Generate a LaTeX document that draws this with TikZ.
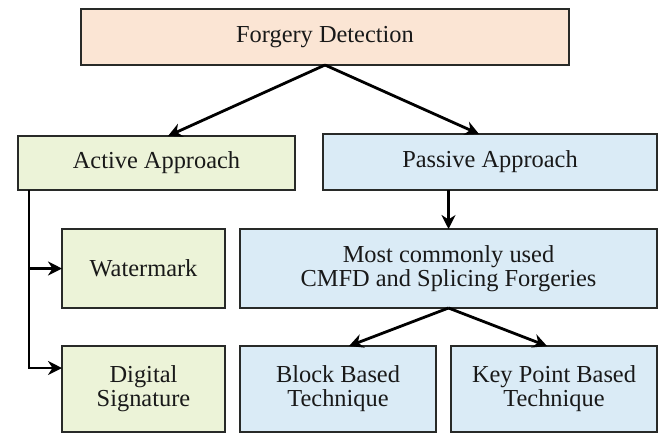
\documentclass[tikz,border=0pt]{standalone}
\usepackage{fontspec}
\setmainfont{Liberation Serif}
\usepackage{tikz}
\usetikzlibrary{arrows.meta,positioning,calc}

\definecolor{peach}{RGB}{251,229,212}
\definecolor{leaf}{RGB}{236,243,216}
\definecolor{sky}{RGB}{218,235,246}
\definecolor{edge}{RGB}{40,42,40}

\tikzset{
    box/.style={draw=edge,line width=1.4pt,inner sep=0pt,outer sep=0pt,
        align=center,font=\fontsize{12.2}{12}\selectfont,text=black!90},
    rootbox/.style={box,fill=peach},
    activebox/.style={box,fill=leaf},
    passivebox/.style={box,fill=sky},
}

\begin{document}
\begin{tikzpicture}[x=0.5pt,y=-0.5pt,>={Stealth[length=7pt,width=7pt]},line width=1.4pt]
    \useasboundingbox (0,0) rectangle (667,435);
    \node[rootbox,minimum width=244pt,minimum height=28pt]    (fd)   at (325,37)    {Forgery Detection};
    \node[activebox,minimum width=138.5pt,minimum height=27pt] (act)  at (156.5,163) {Active Approach};
    \node[passivebox,minimum width=167pt,minimum height=28pt]  (pas)  at (490,162)   {Passive Approach};
    \node[activebox,minimum width=81.5pt,minimum height=39.5pt] (wm)  at (143.5,268.5) {Watermark};
    \node[passivebox,minimum width=208.5pt,minimum height=39.5pt] (cmfd) at (448.5,268.5) {Most commonly used\\CMFD and Splicing Forgeries};
    \node[activebox,minimum width=81.5pt,minimum height=43pt]  (ds)   at (143.5,389) {Digital\\Signature};
    \node[passivebox,minimum width=98pt,minimum height=43pt]   (bb)   at (338,389)   {Block Based\\Technique};
    \node[passivebox,minimum width=103pt,minimum height=43pt]  (kp)   at (554,389)   {Key Point Based\\Technique};
    \coordinate (trunk) at ([xshift=5.5pt]act.south west);
    % top level split
    \draw[->] (fd.south) -- ([xshift=5.75pt]act.north);
    \draw[->] (fd.south) -- ([xshift=-5.5pt]pas.north);
    % active side
    \draw[->] (trunk) |- (wm.west);
    \draw[->] (trunk) |- ([yshift=10.5pt]ds.west);
    % passive side
    \draw[->] (pas.south -| cmfd.north) -- (cmfd.north);
    \draw[->] (cmfd.south) -- ([xshift=5.5pt]bb.north);
    \draw[->] (cmfd.south) -- ([xshift=-3.5pt]kp.north);
\end{tikzpicture}
\end{document}
